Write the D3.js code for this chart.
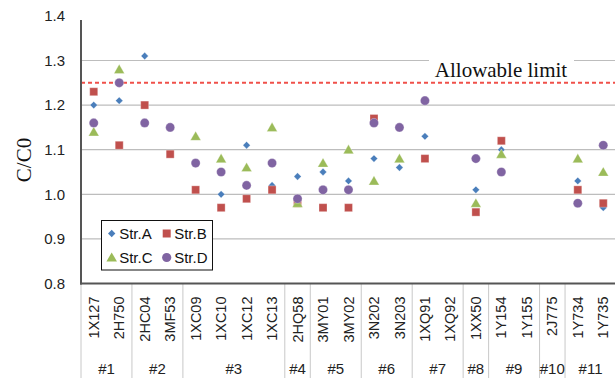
<!DOCTYPE html>
<html>
<head>
<meta charset="utf-8">
<script src="https://cdn.jsdelivr.net/npm/d3@7/dist/d3.min.js"></script>
<style>
  html, body { margin: 0; padding: 0; background: #fff; }
  svg { display: block; }
</style>
</head>
<body>
<svg id="chart" width="615" height="378"></svg>
<script>
// Specimen codes along the x axis
const categories = ["1X127","2H750","2HC04","3MF53","1XC09","1XC10","1XC12","1XC13","2HQ58",
  "3MY01","3MY02","3N202","3N203","1XQ91","1XQ92","1XX50","1Y154","1Y155","2J775","1Y734","1Y735"];
// Group labels and how many specimens each group spans
const groupNames = ["#1","#2","#3","#4","#5","#6","#7","#8","#9","#10","#11"];
const groupSizes = [2, 2, 4, 1, 2, 2, 2, 1, 2, 1, 2];
// C/C0 ratio per structure (null = not measured)
const strA = [1.20,1.21,1.31,null,null,1.00,1.11,1.02,1.04,1.05,1.03,1.08,1.06,1.13,null,1.01,1.10,null,null,1.03,0.97];
const strB = [1.23,1.11,1.20,1.09,1.01,0.97,0.99,1.01,0.98,0.97,0.97,1.17,null,1.08,null,0.96,1.12,null,null,1.01,0.98];
const strC = [1.14,1.28,null,null,1.13,1.08,1.06,1.15,0.98,1.07,1.10,1.03,1.08,null,null,0.98,1.09,null,null,1.08,1.05];
const strD = [1.16,1.25,1.16,1.15,1.07,1.05,1.02,1.07,0.99,1.01,1.01,1.16,1.15,1.21,null,1.08,1.05,null,null,0.98,1.11];
const yTicks = [0.8, 0.9, 1.0, 1.1, 1.2, 1.3, 1.4];
const limitValue = 1.25;
const limitLabel = "Allowable limit";
const yLabel = "C/C0";

// diamond = square turned 45 degrees
const series = [
  { name: "Str.A", values: strA, shape: d3.symbolSquare, size: 27, rot: 45, dy: 0, color: "#4a7ebb" },
  { name: "Str.B", values: strB, shape: d3.symbolSquare, size: 64, rot: 0, dy: 0, color: "#c0504d" },
  { name: "Str.C", values: strC, shape: d3.symbolTriangle, size: 48, rot: 0, dy: 1, color: "#9bbb59" },
  { name: "Str.D", values: strD, shape: d3.symbolCircle, size: 66, rot: 0, dy: 0, color: "#8064a2" }
];

const svg = d3.select("#chart");
const plotLeft = 81, plotRight = 616, plotTop = 15.9, plotBottom = 283.5;

const x = d3.scaleBand().domain(categories).range([plotLeft, plotRight]).padding(0);
const y = d3.scaleLinear().domain([0.8, 1.4]).range([plotBottom, plotTop]);

// horizontal gridlines
svg.append("g").selectAll("line")
  .data(yTicks.filter(v => v > 0.8 && v < 1.4))
  .join("line")
  .attr("x1", plotLeft).attr("x2", 615)
  .attr("y1", d => y(d)).attr("y2", d => y(d))
  .attr("stroke", "#bdbdbd").attr("stroke-width", 1.2);

// y axis tick labels
const yAxis = d3.axisLeft(y).tickValues(yTicks).tickSize(0).tickPadding(16)
  .tickFormat(d3.format(".1f"));
const gy = svg.append("g").attr("transform", `translate(${plotLeft},0)`).call(yAxis);
gy.select(".domain").remove();
gy.selectAll("text")
  .attr("font-family", "Liberation Sans, Arial, sans-serif")
  .attr("font-size", 15).attr("fill", "#222");

// y axis title
svg.append("text")
  .attr("transform", `translate(31,160) rotate(-90)`)
  .attr("text-anchor", "middle")
  .attr("font-family", "Liberation Serif, Times New Roman, serif")
  .attr("font-size", 21).attr("fill", "#111")
  .text(yLabel);

// allowable limit line and label
svg.append("line")
  .attr("x1", plotLeft).attr("x2", 615)
  .attr("y1", y(limitValue)).attr("y2", y(limitValue))
  .attr("stroke", "#f0504a").attr("stroke-width", 2)
  .attr("stroke-dasharray", "4,3");
svg.append("rect")
  .attr("x", 429).attr("y", 55).attr("width", 145).attr("height", 23)
  .attr("fill", "#fff");
svg.append("text")
  .attr("x", 501).attr("y", 76.5)
  .attr("text-anchor", "middle")
  .attr("font-family", "Liberation Serif, Times New Roman, serif")
  .attr("font-size", 21).attr("fill", "#111")
  .text(limitLabel);

// category labels (rotated) below the plot
const xAxis = d3.axisBottom(x).tickSize(0);
const gx = svg.append("g").attr("transform", `translate(0,${plotBottom})`).call(xAxis);
gx.select(".domain").remove();
gx.selectAll("text")
  .attr("font-family", "Liberation Sans, Arial, sans-serif")
  .attr("font-size", 14.5).attr("fill", "#222")
  .attr("text-anchor", "end")
  .attr("transform", "rotate(-90)")
  .attr("x", -13).attr("y", 0).attr("dy", "0.35em");

// group separators and group labels
let acc = 0;
const bounds = [0];
groupSizes.forEach(n => { acc += n; bounds.push(acc); });
const bw = x.bandwidth();
svg.append("g").selectAll("line")
  .data(bounds)
  .join("line")
  .attr("x1", d => plotLeft + d * bw).attr("x2", d => plotLeft + d * bw)
  .attr("y1", plotBottom).attr("y2", 378)
  .attr("stroke", "#c8c8c8").attr("stroke-width", 1);
svg.append("g").selectAll("text")
  .data(groupNames)
  .join("text")
  .attr("x", (d, i) => plotLeft + (bounds[i] + bounds[i + 1]) / 2 * bw)
  .attr("y", 374)
  .attr("text-anchor", "middle")
  .attr("font-family", "Liberation Sans, Arial, sans-serif")
  .attr("font-size", 15).attr("fill", "#222")
  .text(d => d);

// axis lines
svg.append("line")
  .attr("x1", plotLeft).attr("x2", plotLeft)
  .attr("y1", 20).attr("y2", plotBottom + 1)
  .attr("stroke", "#555").attr("stroke-width", 2);
svg.append("line")
  .attr("x1", plotLeft - 1).attr("x2", 615)
  .attr("y1", plotBottom).attr("y2", plotBottom)
  .attr("stroke", "#555").attr("stroke-width", 2.2);

// data markers
series.forEach(s => {
  const sym = d3.symbol().type(s.shape).size(s.size);
  svg.append("g").selectAll("path")
    .data(categories.map((c, i) => ({ c, v: s.values[i] })).filter(d => d.v != null))
    .join("path")
    .attr("d", sym)
    .attr("transform", d => `translate(${x(d.c) + bw / 2},${y(d.v) + s.dy}) rotate(${s.rot})`)
    .attr("fill", s.color)
    .attr("stroke", "#fff").attr("stroke-opacity", 0.5).attr("stroke-width", 0.6);
});

// legend
const lg = svg.append("g");
lg.append("rect")
  .attr("x", 101.5).attr("y", 220.5).attr("width", 111).attr("height", 49.5)
  .attr("fill", "#fff").attr("stroke", "#111").attr("stroke-width", 1);
series.forEach((s, i) => {
  const cx = 111.7 + (i % 2) * 55;
  const cy = 233.5 + Math.floor(i / 2) * 24;
  lg.append("path")
    .attr("d", d3.symbol().type(s.shape).size(s.size)())
    .attr("transform", `translate(${cx},${cy + s.dy}) rotate(${s.rot})`)
    .attr("fill", s.color);
  lg.append("text")
    .attr("x", cx + 7.5).attr("y", cy).attr("dy", "0.36em")
    .attr("font-family", "Liberation Sans, Arial, sans-serif")
    .attr("font-size", 15).attr("fill", "#111")
    .text(s.name);
});
</script>
</body>
</html>
